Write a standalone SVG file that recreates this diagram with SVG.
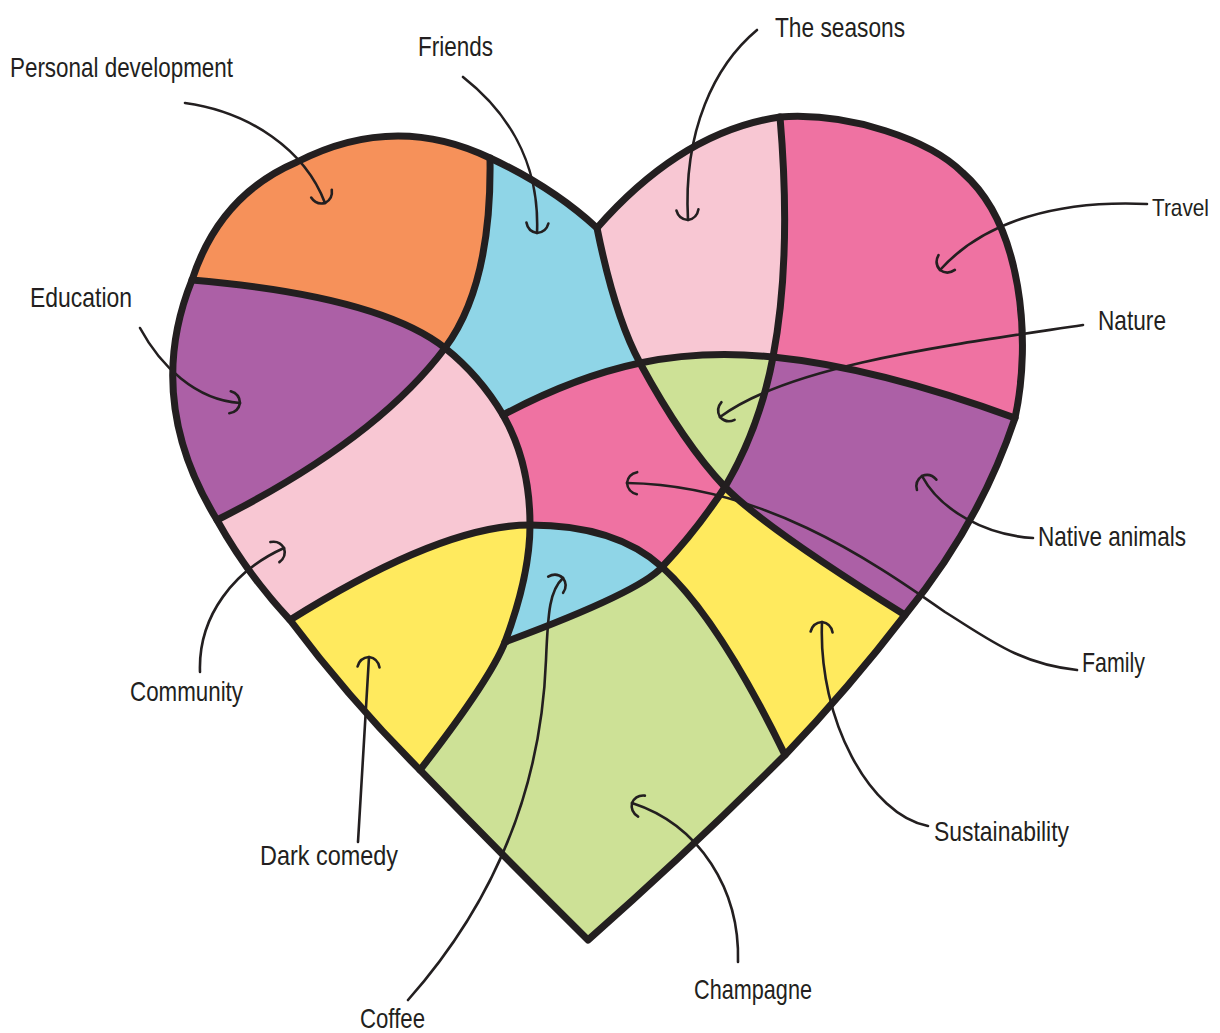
<svg xmlns="http://www.w3.org/2000/svg" width="1220" height="1033" viewBox="0 0 1220 1033">
<defs>
<style>
.rg{stroke:none}
.orange{fill:#F6915A}.blue{fill:#8FD5E7}.lpink{fill:#F8C7D3}.pink{fill:#EF72A2}.purple{fill:#AC60A6}.yellow{fill:#FFEA5E}.green{fill:#CDE196}
.ln{fill:none;stroke:#231F20;stroke-width:7;stroke-linecap:round;stroke-linejoin:round}
.ar{fill:none;stroke:#231F20;stroke-width:2.6;stroke-linecap:round;marker-end:url(#ah)}
.lb{font-family:"Liberation Sans Narrow","Liberation Sans",Arial,sans-serif;font-size:28px;fill:#231F20}
</style>
<marker id="ah" viewBox="-16 -16 32 32" markerWidth="32" markerHeight="32" refX="0" refY="0" orient="auto" markerUnits="userSpaceOnUse">
<path d="M-10,-11 Q-1,-9 0,0 Q-1,9 -10,11" fill="none" stroke="#231F20" stroke-width="2.6" stroke-linecap="round"/>
</marker>
</defs>
<rect width="1220" height="1033" fill="#ffffff"/>
<g id="regions">
<g id="personal-development"><path class="rg orange" d="M490,158 Q394.5,112 297,162 Q219.5,195 192,280 Q379,296 445,348 Q492,285 490,158 Z"/></g>
<g id="friends"><path class="rg blue" d="M490,158 Q492,285 445,348 Q480,376 503,415 Q574,377 640,363 Q615,317 597,228 Q552.5,187 490,158 Z"/></g>
<g id="the-seasons"><path class="rg lpink" d="M597,228 Q615,317 640,363 Q702,350 773,357 Q792,257 780,117 Q681.5,131.5 597,228 Z"/></g>
<g id="travel"><path class="rg pink" d="M780,117 Q792,257 773,357 Q877.5,367.6 1015,418 C1032,340 1022,225 963,173 C930,140 850,112 780,117 Z"/></g>
<g id="education"><path class="rg purple" d="M192,280 Q143.5,400 217,520 Q376,440 445,348 Q379,296 192,280 Z"/></g>
<g id="community"><path class="rg lpink" d="M217,520 Q247,574 290,620 Q442,525 530,525 Q530,462 503,415 Q480,376 445,348 Q376,440 217,520 Z"/></g>
<g id="family"><path class="rg pink" d="M503,415 Q574,377 640,363 Q684,444 725,487 Q697,530 662,567 Q615.6,525 530,525 Q530,462 503,415 Z"/></g>
<g id="nature"><path class="rg green" d="M640,363 Q702,350 773,357 Q759.6,428 725,487 Q684,444 640,363 Z"/></g>
<g id="native-animals"><path class="rg purple" d="M773,357 Q877.5,367.6 1015,418 Q980,523.5 905,615 Q762.5,526 725,487 Q759.6,428 773,357 Z"/></g>
<g id="sustainability"><path class="rg yellow" d="M725,487 Q762.5,526 905,615 Q849,688 785,755 Q718,617.6 662,567 Q697,530 725,487 Z"/></g>
<g id="dark-comedy"><path class="rg yellow" d="M290,620 Q442,525 530,525 Q530,575 505,642 Q490,680 420,770 Q350,700 290,620 Z"/></g>
<g id="coffee"><path class="rg blue" d="M530,525 Q615.6,525 662,567 Q640,592 505,642 Q530,575 530,525 Z"/></g>
<g id="champagne"><path class="rg green" d="M505,642 Q640,592 662,567 Q718,617.6 785,755 Q689,851 588,940 Q503,856 420,770 Q490,680 505,642 Z"/></g>
</g>
<g id="dividers">
<path class="ln" d="M192,280 Q379,296 445,348 Q480,376 503,415 Q530,462 530,525 Q530,575 505,642 Q490,680 420,770"/>
<path class="ln" d="M490,158 Q492,285 445,348 Q376,440 217,520"/>
<path class="ln" d="M597,228 Q615,317 640,363 Q684,444 725,487 Q762.5,526 905,615"/>
<path class="ln" d="M290,620 Q442,525 530,525 Q615.6,525 662,567 Q718,617.6 785,755"/>
<path class="ln" d="M780,117 Q792,257 773,357 Q759.6,428 725,487 Q697,530 662,567 Q640,592 505,642"/>
<path class="ln" d="M503,415 Q574,377 640,363 Q702,350 773,357 Q877.5,367.6 1015,418"/>
<path id="heart-outline" class="ln" d="M597,228 Q552.5,187 490,158 Q394.5,112 297,162 Q219.5,195 192,280 Q143.5,400 217,520 Q247,574 290,620 Q350,700 420,770 Q503,856 588,940 Q689,851 785,755 Q849,688 905,615 Q980,523.5 1015,418 C1032,340 1022,225 963,173 C930,140 850,112 780,117 Q681.5,131.5 597,228 Z"/>
</g>
<g id="connectors">
<path class="ar" d="M185,103 C250,112 305,150 325,203"/>
<path class="ar" d="M463,77 C505,110 540,160 537,233"/>
<path class="ar" d="M757,30 C715,65 683,130 688,220"/>
<path class="ar" d="M1147,204 C1060,200 985,220 940,270"/>
<path class="ar" d="M1083,325 C950,345 790,365 720,417"/>
<path class="ar" d="M140,328 C160,365 195,400 240,403"/>
<path class="ar" d="M1033,538 C985,535 940,510 922,476"/>
<path class="ar" d="M1077,670 C1020,664 990,640 945,612 C868,558 760,485 627,483"/>
<path class="ar" d="M200,672 C198,615 235,570 284,548"/>
<path class="ar" d="M358,842 C362,770 367,700 369,657"/>
<path class="ar" d="M408,1000 C470,930 540,820 546,660 C548,610 550,590 563,578"/>
<path class="ar" d="M928,826 C870,815 818,720 822,622"/>
<path class="ar" d="M738,962 C740,890 700,825 632,803"/>
</g>
<g id="labels">
<g id="label-personal-development"><text class="lb" x="10" y="77" textLength="223" lengthAdjust="spacingAndGlyphs">Personal development</text></g>
<g id="label-friends"><text class="lb" x="418" y="56" textLength="75" lengthAdjust="spacingAndGlyphs">Friends</text></g>
<g id="label-the-seasons"><text class="lb" x="775" y="37" textLength="130" lengthAdjust="spacingAndGlyphs">The seasons</text></g>
<g id="label-travel"><text class="lb" x="1152" y="216" font-size="24" style="font-size:24px" textLength="57" lengthAdjust="spacingAndGlyphs">Travel</text></g>
<g id="label-nature"><text class="lb" x="1098" y="330" textLength="68" lengthAdjust="spacingAndGlyphs">Nature</text></g>
<g id="label-education"><text class="lb" x="30" y="307" textLength="102" lengthAdjust="spacingAndGlyphs">Education</text></g>
<g id="label-native-animals"><text class="lb" x="1038" y="546" textLength="148" lengthAdjust="spacingAndGlyphs">Native animals</text></g>
<g id="label-family"><text class="lb" x="1082" y="672" textLength="63" lengthAdjust="spacingAndGlyphs">Family</text></g>
<g id="label-community"><text class="lb" x="130" y="701" textLength="113" lengthAdjust="spacingAndGlyphs">Community</text></g>
<g id="label-dark-comedy"><text class="lb" x="260" y="865" textLength="138" lengthAdjust="spacingAndGlyphs">Dark comedy</text></g>
<g id="label-sustainability"><text class="lb" x="934" y="841" textLength="135" lengthAdjust="spacingAndGlyphs">Sustainability</text></g>
<g id="label-champagne"><text class="lb" x="694" y="999" textLength="118" lengthAdjust="spacingAndGlyphs">Champagne</text></g>
<g id="label-coffee"><text class="lb" x="360" y="1028" textLength="65" lengthAdjust="spacingAndGlyphs">Coffee</text></g>
</g>
</svg>
